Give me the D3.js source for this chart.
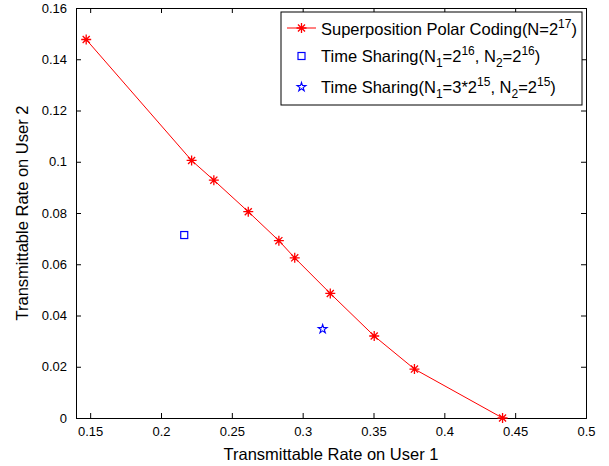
<!DOCTYPE html>
<html>
<head>
<meta charset="utf-8">
<script src="https://cdn.jsdelivr.net/npm/d3@7"></script>
<style>
  body { margin: 0; background: #fff; }
  text { font-family: "Liberation Sans", Arial, sans-serif; fill: #000; }
</style>
</head>
<body>
<div id="chart"></div>
<script>
// Superposition polar coding curve
const rate1 = [0.1472, 0.2216, 0.2373, 0.2616, 0.2832, 0.2944, 0.3195, 0.3505, 0.3789, 0.4411];
const rate2 = [0.1477, 0.1005, 0.0928, 0.0805, 0.0692, 0.0625, 0.0486, 0.0320, 0.0191, 0.0];

// Time sharing points
const tsSquare = [0.2164, 0.0714];
const tsStar = [0.3141, 0.0347];

const xTicks = [0.15, 0.2, 0.25, 0.3, 0.35, 0.4, 0.45, 0.5];
const yTicks = [0, 0.02, 0.04, 0.06, 0.08, 0.1, 0.12, 0.14, 0.16];

const width = 609, height = 466;
const margin = { left: 76, top: 8, right: 23, bottom: 48 };

const svg = d3.select("#chart").append("svg")
    .attr("width", width).attr("height", height);

const x = d3.scaleLinear().domain([0.14, 0.5]).range([margin.left, width - margin.right]);
const y = d3.scaleLinear().domain([0, 0.16]).range([height - margin.bottom, margin.top]);

// axes, ticks inward on all four sides
const fmt = d => d === 0 ? "0" : String(+d.toFixed(2));
svg.append("g").attr("transform", `translate(0,${y(0)})`)
    .call(d3.axisBottom(x).tickValues(xTicks).tickSize(-5).tickPadding(9).tickFormat(fmt));
svg.append("g").attr("transform", `translate(0,${y(0.16)})`)
    .call(d3.axisTop(x).tickValues(xTicks).tickSize(-5).tickFormat(""));
svg.append("g").attr("transform", `translate(${x(0.14)},0)`)
    .call(d3.axisLeft(y).tickValues(yTicks).tickSize(-5).tickPadding(9).tickFormat(fmt));
svg.append("g").attr("transform", `translate(${x(0.5)},0)`)
    .call(d3.axisRight(y).tickValues(yTicks).tickSize(-5).tickFormat(""));

svg.selectAll(".domain").attr("stroke", "#000");
svg.selectAll(".tick line").attr("stroke", "#000");
svg.selectAll(".tick text")
    .style("font-family", "'Liberation Sans', Arial, sans-serif")
    .style("font-size", "13px").attr("fill", "#000");

// axis titles
svg.append("text").attr("x", (x(0.14) + x(0.5)) / 2).attr("y", 460)
    .attr("text-anchor", "middle").style("font-size", "16.5px")
    .text("Transmittable Rate on User 1");
svg.append("text")
    .attr("transform", `translate(28,${(y(0) + y(0.16)) / 2}) rotate(-90)`)
    .attr("text-anchor", "middle").style("font-size", "16.5px")
    .text("Transmittable Rate on User 2");

// marker helpers
function asterisk(g, cx, cy, r) {
    const d = r * Math.SQRT1_2;
    g.append("path")
        .attr("d", `M${cx - r},${cy}H${cx + r}M${cx},${cy - r}V${cy + r}` +
            `M${cx - d},${cy - d}L${cx + d},${cy + d}M${cx - d},${cy + d}L${cx + d},${cy - d}`)
        .attr("stroke", "red").attr("stroke-width", 1.3).attr("fill", "none");
}
function square(g, cx, cy, s) {
    g.append("rect").attr("x", cx - s / 2).attr("y", cy - s / 2)
        .attr("width", s).attr("height", s)
        .attr("fill", "none").attr("stroke", "blue").attr("stroke-width", 1.2);
}
const starPath = d3.symbol().type(d3.symbolStar).size(24);
function star(g, cx, cy) {
    g.append("path").attr("d", starPath())
        .attr("transform", `translate(${cx},${cy})`)
        .attr("fill", "none").attr("stroke", "blue").attr("stroke-width", 1.1);
}

// curve
const pts = rate1.map((v, i) => [v, rate2[i]]);
svg.append("path").datum(pts)
    .attr("d", d3.line().x(d => x(d[0])).y(d => y(d[1])))
    .attr("fill", "none").attr("stroke", "red").attr("stroke-width", 1);
const marks = svg.append("g");
pts.forEach(d => asterisk(marks, x(d[0]), y(d[1]), 5));

square(svg, x(tsSquare[0]), y(tsSquare[1]), 7);
star(svg, x(tsStar[0]), y(tsStar[1]));

// legend
const lg = svg.append("g");
lg.append("rect").attr("x", 281).attr("y", 12).attr("width", 301).attr("height", 93)
    .attr("fill", "#fff").attr("stroke", "#000").attr("stroke-width", 1);

lg.append("line").attr("x1", 287).attr("x2", 316).attr("y1", 28).attr("y2", 28)
    .attr("stroke", "red").attr("stroke-width", 1);
asterisk(lg, 301.5, 28, 5);
square(lg, 301.5, 56, 7);
star(lg, 301.5, 87);

const tx = 321, fs = "16.5px";
function legendText(yy, parts) {
    const t = lg.append("text").attr("x", tx).attr("y", yy).style("font-size", fs);
    parts.forEach(p => {
        const s = t.append("tspan").text(p.t);
        if (p.sup) s.attr("dy", -7).style("font-size", "12px");
        if (p.sub) s.attr("dy", 5).style("font-size", "12px");
        if (p.back) s.attr("dy", p.back);
    });
}
legendText(35, [
    { t: "Superposition Polar Coding(N=2" }, { t: "17", sup: true }, { t: ")", back: 7 }
]);
legendText(62, [
    { t: "Time Sharing(N" }, { t: "1", sub: true }, { t: "=2", back: -5 },
    { t: "16", sup: true }, { t: ", N", back: 7 }, { t: "2", sub: true },
    { t: "=2", back: -5 }, { t: "16", sup: true }, { t: ")", back: 7 }
]);
legendText(93, [
    { t: "Time Sharing(N" }, { t: "1", sub: true }, { t: "=3*2", back: -5 },
    { t: "15", sup: true }, { t: ", N", back: 7 }, { t: "2", sub: true },
    { t: "=2", back: -5 }, { t: "15", sup: true }, { t: ")", back: 7 }
]);
</script>
</body>
</html>
